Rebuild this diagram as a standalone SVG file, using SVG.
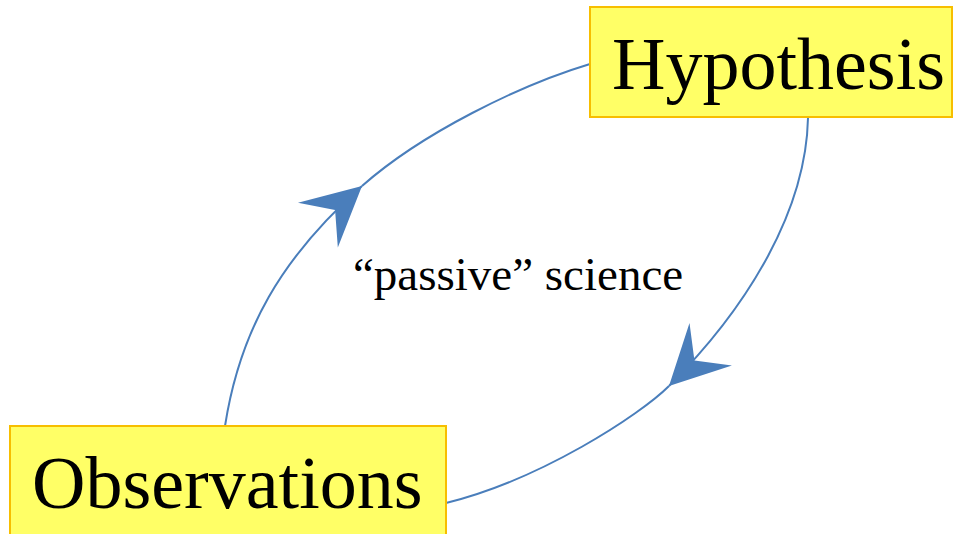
<svg xmlns="http://www.w3.org/2000/svg" width="955" height="534" viewBox="0 0 955 534">
<style>
.box{fill:#ffff66;stroke:#f7be00;stroke-width:2}
.lbl{font-family:'Liberation Serif','DejaVu Serif',serif;fill:#000}
.conn{fill:none;stroke:#4a7ebb;stroke-width:2}
</style>
<defs>
<marker id="stealth" markerUnits="userSpaceOnUse" viewBox="-60 -31 61 62" markerWidth="61" markerHeight="62" refX="0" refY="0" orient="auto" overflow="visible">
<path d="M0,0 L-59,-30 L-36,0 L-59,30 Z" fill="#4a7ebb"/>
</marker>
</defs>
<rect width="955" height="534" fill="#fff"/>
<g id="connectors">
<path class="conn" d="M225,426 C240,330 281,258 362,186" marker-end="url(#stealth)"/>
<path class="conn" d="M362,186 C422,133 520,85 590,64"/>
<path class="conn" d="M808,118 C806,210 749,306 669,386" marker-end="url(#stealth)"/>
<path class="conn" d="M669,386 C640,415 540,480 446,503"/>
</g>
<g id="hypothesis">
<rect class="box" x="590" y="7" width="362" height="110"/>
<text class="lbl" font-family="Liberation Serif, serif" x="612" y="89" font-size="74">Hypothesis</text>
</g>
<g id="observations">
<rect class="box" x="10" y="426" width="436" height="120"/>
<text class="lbl" font-family="Liberation Serif, serif" x="32" y="508" font-size="74">Observations</text>
</g>
<g id="label">
<text class="lbl" font-family="Liberation Serif, serif" x="353" y="290" font-size="47">“passive” science</text>
</g>
</svg>
